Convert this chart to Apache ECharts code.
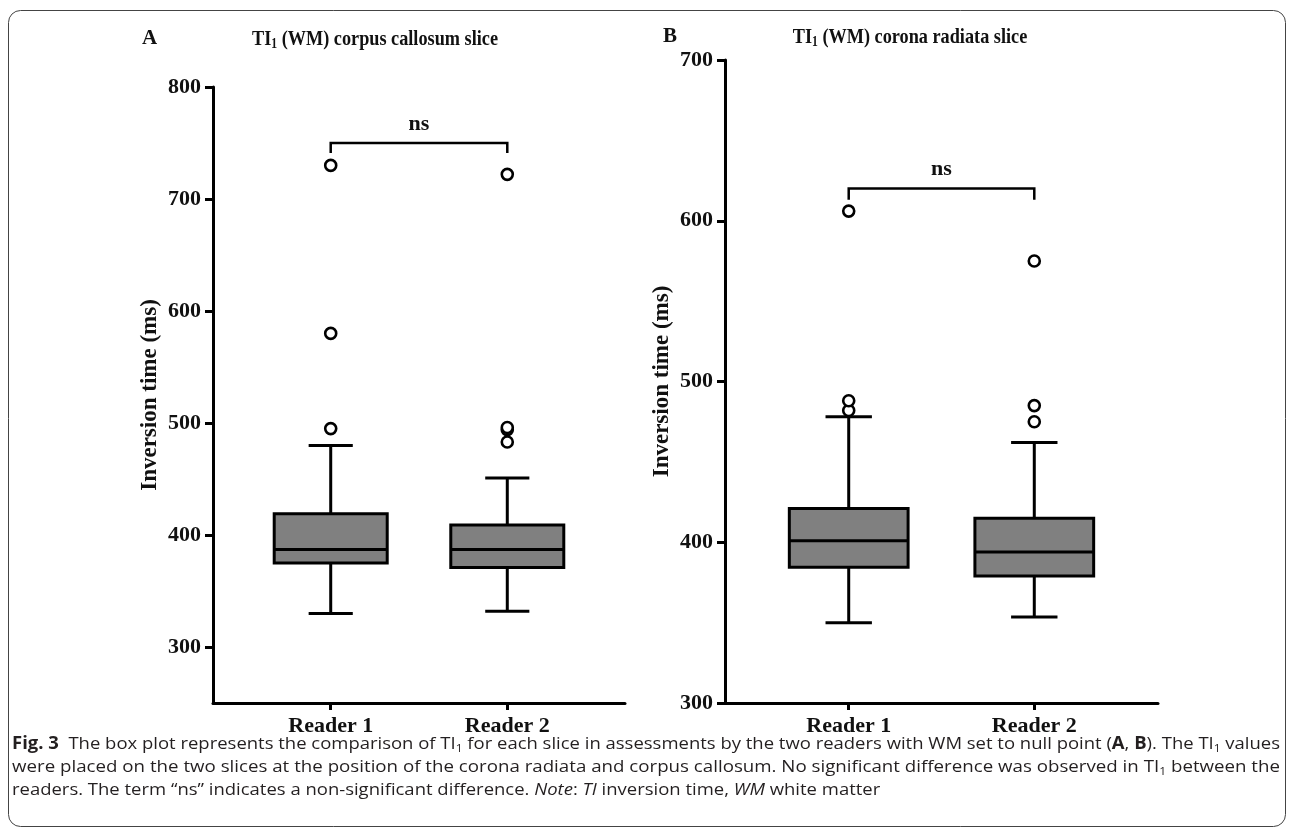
<!DOCTYPE html>
<html><head><meta charset="utf-8">
<script src="https://cdn.jsdelivr.net/npm/echarts@6/dist/echarts.min.js"></script>
<style>html,body{margin:0;padding:0;background:#fff}#c{width:1290px;height:829px}</style>
</head><body><div id="c"></div>
<script>
// ---------------- data ----------------
const readers = ['Reader 1', 'Reader 2'];
// Panel A: TI1 (WM) corpus callosum slice   [min, Q1, median, Q3, max]
const boxA = [
  [330, 375, 387, 419, 480],
  [332, 371, 387, 409, 451]
];
const outliersA = [[495, 580, 730], [483, 494, 496, 722]];
const bracketA = [750, 741];           // bracket level, end of drop
const yTicksA = [300, 400, 500, 600, 700, 800];
// Panel B: TI1 (WM) corona radiata slice
const boxB = [
  [350, 384.5, 401, 421, 478],
  [353.5, 379, 394, 415, 462]
];
const outliersB = [[482, 488, 606], [475, 485, 575]];
const bracketB = [620, 613];
const yTicksB = [300, 400, 500, 600, 700];
const sigLabel = 'ns';
const titlesText = [['TI', '1', ' (WM) corpus callosum slice'], ['TI', '1', ' (WM) corona radiata slice']];
const panelLetters = ['A', 'B'];

// ---------------- styles ----------------
const SERIF = '"Liberation Serif", "Times New Roman", serif';
const SANS = '"Open Sans", "Noto Sans", sans-serif';
const INK = '#111';
const BOX_W = 0.64, CAP_W = 0.25;

function renderBox(params, api) {
  const x = api.value(0);
  const p = [1, 2, 3, 4, 5].map(k => api.coord([x, api.value(k)]));
  const cx = p[0][0];
  const bw = api.size([BOX_W, 0])[0], cw = api.size([CAP_W, 0])[0];
  const ls = { stroke: '#000', lineWidth: 3, fill: null };
  return { type: 'group', children: [
    { type: 'line', shape: { x1: cx, y1: p[4][1], x2: cx, y2: p[3][1] }, style: ls },
    { type: 'line', shape: { x1: cx, y1: p[1][1], x2: cx, y2: p[0][1] }, style: ls },
    { type: 'line', shape: { x1: cx - cw / 2, y1: p[4][1], x2: cx + cw / 2, y2: p[4][1] }, style: ls },
    { type: 'line', shape: { x1: cx - cw / 2, y1: p[0][1], x2: cx + cw / 2, y2: p[0][1] }, style: ls },
    { type: 'rect', shape: { x: cx - bw / 2, y: p[3][1], width: bw, height: p[1][1] - p[3][1] },
      style: { fill: '#808080', stroke: '#000', lineWidth: 3 } },
    { type: 'line', shape: { x1: cx - bw / 2, y1: p[2][1], x2: cx + bw / 2, y2: p[2][1] }, style: ls }
  ]};
}
function renderBracket(params, api) {
  const a = api.coord([api.value(0), api.value(2)]);
  const b = api.coord([api.value(1), api.value(2)]);
  const d = api.coord([api.value(0), api.value(3)]);
  return { type: 'group', children: [
    { type: 'polyline', shape: { points: [[a[0], d[1]], a, b, [b[0], d[1]]] },
      style: { stroke: '#000', lineWidth: 2.5, fill: null } },
    { type: 'text', x: (a[0] + b[0]) / 2, y: a[1] - 8,
      style: { text: sigLabel, font: 'bold 22px ' + SERIF, fill: INK, align: 'center', verticalAlign: 'bottom' } }
  ]};
}

function xAxis(gridIndex) {
  return {
    type: 'value', gridIndex, min: 1 / 3, max: 8 / 3,
    axisLine: { show: true, onZero: false, lineStyle: { color: '#000', width: 3 } },
    axisTick: { show: true, customValues: [1, 2], length: 7, lineStyle: { color: '#000', width: 3 } },
    axisLabel: { customValues: [1, 2], formatter: v => readers[Math.round(v) - 1],
      fontWeight: 'bold', fontSize: 22, fontFamily: SERIF, color: INK, margin: 12 },
    splitLine: { show: false }
  };
}
function yAxis(gridIndex, min, max, ticks) {
  return {
    type: 'value', gridIndex, min, max,
    name: 'Inversion time (ms)', nameLocation: 'middle', nameGap: 51,
    nameTextStyle: { fontWeight: 'bold', fontSize: 23, fontFamily: SERIF, color: INK },
    axisLine: { show: true, lineStyle: { color: '#000', width: 3 } },
    axisTick: { show: true, customValues: ticks, length: 8, lineStyle: { color: '#000', width: 3 } },
    axisLabel: { customValues: ticks, fontWeight: 'bold', fontSize: 22, fontFamily: SERIF, color: INK, margin: 12 },
    splitLine: { show: false }
  };
}
function panelSeries(idx, boxes, outs, br) {
  const outData = [];
  outs.forEach((arr, i) => arr.forEach(v => outData.push([i + 1, v])));
  return [
    { type: 'custom', xAxisIndex: idx, yAxisIndex: idx, renderItem: renderBox,
      encode: { x: 0, y: [1, 2, 3, 4, 5] }, data: boxes.map((b, i) => [i + 1, ...b]), z: 2 },
    { type: 'scatter', xAxisIndex: idx, yAxisIndex: idx, data: outData, symbol: 'circle', symbolSize: 11,
      itemStyle: { color: '#fff', borderColor: '#000', borderWidth: 2.6, opacity: 1 }, z: 3 },
    { type: 'custom', xAxisIndex: idx, yAxisIndex: idx, renderItem: renderBracket,
      encode: { x: [0, 1], y: [2, 3] }, data: [[1, 2, br[0], br[1]]], z: 3 }
  ];
}

const mctx = document.createElement('canvas').getContext('2d');

// ---------------- titles (condensed to reference width) ----------------
const T_SIZE = 22, T_SUB = 14;
function titleWidth(parts) {
  mctx.font = `bold ${T_SIZE}px ${SERIF}`;
  let w = mctx.measureText(parts[0]).width + mctx.measureText(parts[2]).width;
  mctx.font = `bold ${T_SUB}px ${SERIF}`;
  return w + mctx.measureText(parts[1]).width;
}
const titleScale = 246 / titleWidth(titlesText[0]);
const titleRich = { s: { fontSize: T_SUB, fontWeight: 'bold', fontFamily: SERIF, fill: INK, padding: [10, 0, 0, 0] } };
function titleText(x, y, parts) {
  return { type: 'text', x, y, scaleX: titleScale, scaleY: 1,
    style: { text: `${parts[0]}{s|${parts[1]}}${parts[2]}`, fontSize: T_SIZE, fontWeight: 'bold', fontFamily: SERIF, fill: INK,
      align: 'center', verticalAlign: 'middle', rich: titleRich } };
}
function letterText(x, y, t) {
  return { type: 'text', x, y, style: { text: t, fontSize: 21, fontWeight: 'bold', fontFamily: SERIF, fill: INK, verticalAlign: 'middle' } };
}

// ---------------- caption (text measured, lines justified) ----------------
const capLines = [
  [['b', 'Fig. 3'], ['n', '  The box plot represents the comparison of TI'], ['s', '1'],
   ['n', ' for each slice in assessments by the two readers with WM set to null point ('], ['b', 'A'], ['n', ', '], ['b', 'B'],
   ['n', '). The TI'], ['s', '1'], ['n', ' values']],
  [['n', 'were placed on the two slices at the position of the corona radiata and corpus callosum. No significant difference was observed in TI'],
   ['s', '1'], ['n', ' between the']],
  [['n', 'readers. The term \u201cns\u201d indicates a non-significant difference. '], ['i', 'Note'], ['n', ': '], ['i', 'TI'],
   ['n', ' inversion time, '], ['i', 'WM'], ['n', ' white matter']]
];
const CAP_SIZE = 17;
const capFonts = {
  n: `normal 400 ${CAP_SIZE}px ${SANS}`,
  b: `normal 700 ${CAP_SIZE}px ${SANS}`,
  i: `italic 400 ${CAP_SIZE}px ${SANS}`,
  s: `normal 400 11px ${SANS}`
};
function lineWidth(segs) {
  return segs.reduce((w, [k, t]) => { mctx.font = capFonts[k]; return w + mctx.measureText(t).width; }, 0);
}
function richText(segs) {
  return segs.map(([k, t]) => k === 'n' ? t : `{${k}|${t}}`).join('');
}
const capRich = {
  b: { fontWeight: 700, fontSize: CAP_SIZE, fontFamily: SANS, fill: '#231f20' },
  i: { fontStyle: 'italic', fontSize: CAP_SIZE, fontFamily: SANS, fill: '#231f20' },
  s: { fontSize: 11, fontFamily: SANS, fill: '#231f20', padding: [9, 0, 0, 0] }
};
const CAP_X = 12, CAP_W_TARGET = 1268;
const capY = [744, 767, 790];
const s0 = CAP_W_TARGET / lineWidth(capLines[0]);
const s1 = CAP_W_TARGET / lineWidth(capLines[1]);
const capScales = [s0, s1, s0];
const captionGraphics = capLines.map((segs, i) => ({
  type: 'text', x: CAP_X, y: capY[i], scaleX: capScales[i], scaleY: 1,
  style: { text: richText(segs), fontSize: CAP_SIZE, fontFamily: SANS, fill: '#231f20',
    align: 'left', verticalAlign: 'middle', rich: capRich }
}));

const chart = echarts.init(document.getElementById('c'), null, { renderer: 'canvas' });
chart.setOption({
  animation: false,
  backgroundColor: '#fff',
  grid: [
    { left: 213, top: 87, width: 412, height: 616 },
    { left: 725, top: 60, width: 433, height: 643 }
  ],
  xAxis: [xAxis(0), xAxis(1)],
  yAxis: [yAxis(0, 250, 800, yTicksA), yAxis(1, 300, 700, yTicksB)],
  series: [
    ...panelSeries(0, boxA, outliersA, bracketA),
    ...panelSeries(1, boxB, outliersB, bracketB)
  ],
  graphic: [
    { type: 'rect', shape: { x: 8.5, y: 10.5, width: 1277, height: 816, r: 12 },
      style: { fill: null, stroke: '#444', lineWidth: 1 }, silent: true },
    letterText(142, 39, panelLetters[0]),
    letterText(663, 37, panelLetters[1]),
    titleText(375, 39, titlesText[0]),
    titleText(910, 37, titlesText[1]),
    ...captionGraphics
  ]
});
</script></body></html>
